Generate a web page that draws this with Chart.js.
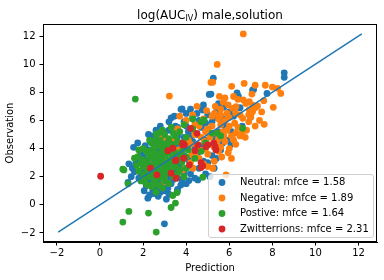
<!DOCTYPE html>
<html>
<head>
<meta charset="utf-8">
<script src="https://cdn.jsdelivr.net/npm/chart.js@4.4.0/dist/chart.umd.min.js"></script>
<style>
html,body{margin:0;padding:0;background:#fff;}
canvas{display:block;}
</style>
</head>
<body>
<canvas id="c" width="384" height="280"></canvas>
<script>
const seriesNames = ["Neutral: mfce = 1.58", "Negative: mfce = 1.89", "Postive: mfce = 1.64", "Zwitterrions: mfce = 2.31"];
const xTicks = [-2, 0, 2, 4, 6, 8, 10, 12];
const yTicks = [-2, 0, 2, 4, 6, 8, 10, 12];

const neutral = [
[8.55,9.38],[8.55,9.06],[5.26,9.0],[5.15,7.87],[5.07,7.85],[6.36,7.96],[6.42,7.73],[7.13,8.2],[7.75,7.92],[5.74,6.93],
[3.81,6.81],[3.76,6.79],[4.77,6.74],[4.74,6.79],[6.08,4.3],[6.99,6.22],[6.23,6.79],[1.56,4.09],[1.34,2.91],[2.37,4.45],
[2.84,5.08],[2.22,0.47],[3.08,0.40],[2.99,-1.35],[4.13,1.72],[4.54,1.77],[3.15,1.18],[3.58,0.94],[1.3,1.6],
[3.3,6.17],[2.98,5.18],[3.5,5.6],[3.9,5.9],[4.3,6.2],[4.6,6.0],[5.0,6.4],[5.4,6.6],[4.1,5.2],[3.6,4.9],[2.6,5.3],
[2.4,4.9],[2.1,4.2],[1.9,3.6],[1.7,3.2],[1.5,2.6],[1.9,2.2],[2.2,1.8],[2.4,1.5],[2.6,1.2],[2.8,0.9],[2.5,0.8],
[3.0,1.0],[2.05,1.0],[2.3,0.7],[3.3,1.5],[3.6,1.9],[3.9,2.3],[4.3,2.6],[4.8,3.1],[5.2,3.5],[5.6,3.9],[5.9,4.6],
[5.5,5.2],[4.9,4.6],[4.4,4.0],[3.9,3.5],[3.4,3.0],[2.9,2.5],[2.5,2.9],[2.2,3.2],[2.7,3.9],[3.1,4.4],[3.6,4.2],
[4.2,4.9],[4.7,5.5],[5.2,5.9],[5.7,6.1],[6.2,6.3],[6.5,6.9],[3.0,3.6],[3.3,2.2],[2.8,1.7],[2.1,2.6],[1.8,1.9],
[4.0,1.5],[4.9,2.2],[5.3,2.6],[6.1,5.2],[6.6,5.6],[2.45,1.05],[2.7,0.6],[3.2,0.75],[2.15,1.35],[1.45,2.0],[1.6,2.35],
[4.5,6.5],[3.2,5.9],[2.8,5.6],[4.0,6.5],[3.45,6.3],[4.4,1.9],[3.75,1.4],[5.1,2.0],[1.75,4.4],[2.25,5.0],[7.08,8.16],
[3.0,2.2],[3.2,2.6],[3.5,2.4],[3.7,2.8],[4.1,3.2],[4.5,3.6],[3.4,3.8],[3.8,4.0],[4.3,4.5],[3.9,4.8],
[4.5,5.0],[4.9,5.8],[5.3,6.2],[4.0,5.6],[3.6,5.5],[3.2,5.3],[2.9,4.8],[2.5,4.5],[2.3,3.9],[2.0,3.5],
[2.7,3.3],[2.6,2.2],[2.4,1.9],[2.9,1.4],[3.4,1.8],[3.1,1.9],[3.8,1.8],[4.2,2.2],[4.6,2.6],[5.0,3.0],
[5.4,3.3],[5.7,4.4],[5.3,4.8],[4.7,4.2],[5.8,5.6],[6.0,6.6],[5.5,7.2],[4.8,7.1],[4.2,6.8],[2.0,2.3],
[1.65,2.9],[2.3,2.4],[2.55,1.55],[3.6,1.1],[2.85,2.05]
];
const negative = [
[6.65,12.15],[5.44,9.98],[6.69,8.63],[7.2,8.5],[7.67,8.5],[6.11,8.42],[5.23,8.72],[5.15,8.7],[7.05,7.87],[8.0,8.37],
[8.24,8.28],[8.39,7.92],[5.54,7.71],[5.72,7.3],[8.04,6.93],[7.62,5.72],[6.74,4.8],[6.16,6.86],[6.31,6.97],[5.31,6.5],
[6.65,7.45],[6.77,7.21],[6.93,7.33],[7.08,7.09],[6.93,6.74],[7.31,7.02],[7.08,6.62],[7.0,6.26],[6.62,6.15],[3.22,7.73],
[5.5,6.1],[5.8,6.0],[6.0,5.6],[5.7,5.2],[6.3,5.1],[5.2,5.6],[4.9,5.2],[4.6,5.6],[4.4,5.0],[4.1,4.6],
[3.8,4.4],[3.6,5.4],[4.0,6.0],[4.3,6.4],[4.8,6.1],[5.1,4.8],[5.4,4.4],[5.8,4.5],[6.2,4.6],[6.4,5.5],
[6.0,4.0],[5.5,3.8],[5.0,3.6],[4.6,3.3],[4.2,3.0],[3.84,2.48],[4.31,2.6],[5.0,2.72],[5.23,2.6],[5.85,2.13],
[3.5,3.6],[3.0,3.9],[2.92,4.77],[3.4,4.6],[4.5,4.3],[4.9,4.0],[5.3,4.1],[6.5,4.9],[6.8,5.3],[7.2,5.6],
[3.2,2.9],[2.8,2.4],[2.99,1.65],[6.9,5.9],[6.5,6.4],[5.9,6.5],[5.6,6.8],[4.95,6.7],[4.5,7.0],[3.7,6.3],
[5.75,4.9],[6.25,5.8],[5.3,3.1],[4.8,2.9],[3.65,3.9],[4.25,3.55],[5.65,3.4],[6.1,3.3],[7.4,6.0],[7.5,6.6],
[5.95,7.1],[5.35,7.0],
[5.2,6.3],[5.6,6.4],[6.0,6.2],[6.3,6.5],[5.9,5.3],[6.1,4.9],[5.5,4.7],[5.0,5.4],[4.7,4.8],[4.4,5.7],
[4.2,4.3],[4.6,3.9],[5.2,4.3],[5.6,4.1],[6.3,4.3],[6.6,5.2],[6.9,6.4],[7.2,6.9],[7.6,7.4],[6.4,7.5],
[5.8,7.6],[6.2,7.7],[5.4,5.1],[4.85,4.5],[5.95,3.7],[4.4,3.5],[5.6,5.7]
];
const positive = [
[1.64,7.52],[1.34,-0.47],[1.06,-1.23],[2.25,-0.59],[2.61,-1.94],[3.3,-0.19],[3.5,0.12],[3.38,0.66],[3.58,0.87],[1.3,1.49],
[4.77,1.96],[1.06,2.53],[1.6,3.31],[1.76,3.43],[1.99,3.19],[2.14,3.83],[2.6,4.61],[4.81,5.98],[6.62,5.44],[4.69,5.9],
[4.83,6.03],[5.46,5.08],
[2.0,2.0],[2.2,2.3],[2.4,2.1],[2.6,1.9],[2.8,2.2],[3.0,2.0],[2.3,2.8],[2.5,2.6],[2.7,2.9],[2.9,3.1],
[3.1,2.7],[3.3,2.5],[2.1,3.0],[2.4,3.4],[2.6,3.6],[2.8,3.3],[3.0,3.5],[3.2,3.2],[3.4,3.4],[2.2,3.7],
[2.5,4.0],[2.7,4.2],[2.9,4.0],[3.1,4.1],[3.3,3.9],[3.5,3.7],[3.7,3.4],[2.4,4.4],[2.8,4.6],[3.2,4.7],
[3.6,4.5],[3.9,4.3],[3.0,5.0],[3.4,5.1],[3.7,5.2],[4.0,4.8],[4.3,5.4],[4.1,3.9],[3.8,3.0],[3.5,2.7],
[2.1,1.6],[2.4,1.3],[1.8,2.4],[1.7,2.8],[1.9,1.7],[2.2,1.4],[3.2,1.5],[3.6,2.2],[4.0,2.6],[4.4,3.3],
[4.7,3.8],[4.9,4.4],[5.2,5.1],[3.9,5.7],[3.3,5.5],[2.7,5.1],[2.0,4.0],[1.8,3.9],[2.6,0.9],[2.9,1.2],
[4.3,6.1],[5.6,4.9],[1.11,2.48],[2.35,2.5],[2.65,2.3],[2.95,2.6],[3.05,3.0],[2.55,3.2],[2.85,3.75],[3.35,4.3],
[2.1,2.2],[2.3,2.0],[2.5,2.35],[2.7,2.5],[2.9,2.3],[3.1,2.3],[2.2,2.6],[2.4,2.8],[2.6,3.0],[2.8,2.7],
[3.0,2.9],[3.2,2.9],[3.3,3.1],[2.3,3.3],[2.5,3.5],[2.7,3.5],[2.9,3.6],[3.1,3.7],[3.3,3.6],[2.4,3.9],
[2.6,4.2],[2.8,4.3],[3.0,4.3],[3.2,4.4],[3.4,4.2],[2.0,2.7],[1.9,3.0],[2.3,4.6],[2.6,5.0],[2.9,5.3],
[3.5,4.9],[3.8,3.8],[4.0,3.4],[3.7,2.5],[3.4,2.0],[2.8,1.9],[2.5,1.6],[2.0,1.9],[2.7,1.4],[3.0,1.7],[3.9,2.0]
];
const zwitterions = [
[0.03,2.03],[2.34,2.6],[2.64,2.13],[3.3,2.25],[3.53,1.89],[3.15,3.85],[3.38,4.02],[3.5,3.14],[3.84,4.26],[3.89,3.31],
[4.15,2.84],[4.2,5.44],[4.41,3.85],[4.69,3.0],[4.77,2.77],[5.0,4.26],[5.34,4.13],[5.28,4.38],[4.5,5.08],[4.54,4.26],
[4.92,4.13],[3.92,4.26],[4.69,2.65],[5.38,3.9],[3.53,3.19],[3.84,4.38]
];

const colors = ["#1f77b4", "#ff7f0e", "#2ca02c", "#d62728"];
const groups = [neutral, negative, positive, zwitterions];

const allVals = [];
groups.forEach(g => g.forEach(p => { allVals.push(p[0], p[1]); }));
const lo = Math.min(...allVals), hi = Math.max(...allVals);
const margin = (hi - lo) * 0.05;
const axMin = lo - margin, axMax = hi + margin;

const datasets = groups.map((g, i) => ({
  type: 'scatter',
  label: seriesNames[i],
  data: g.map(p => ({x: p[0], y: p[1]})),
  backgroundColor: colors[i],
  borderWidth: 0,
  pointRadius: 3.4,
  pointHoverRadius: 3.4,
  order: 4 - i
}));
datasets.push({
  type: 'line',
  label: 'identity',
  data: [{x: lo, y: lo}, {x: hi, y: hi}],
  borderColor: "#1f77b4",
  borderWidth: 1.5,
  pointRadius: 0,
  fill: false,
  order: 0
});

const FONT = "'DejaVu Sans', sans-serif";

const decor = {
  id: 'decor',
  afterDraw(chart) {
    const ctx = chart.ctx;
    const a = chart.chartArea;
    ctx.save();
    ctx.strokeStyle = '#000';
    ctx.lineWidth = 1;
    ctx.strokeRect(Math.round(a.left) + 0.5, Math.round(a.top) + 0.5, Math.round(a.right - a.left) - 1, Math.round(a.bottom - a.top) - 1);
    const cx = (a.left + a.right) / 2;
    ctx.fillStyle = '#000';
    ctx.textBaseline = 'alphabetic';
    const p1 = 'log(AUC', sub = 'IV', p2 = ') male,solution';
    ctx.font = '12px ' + FONT;
    const w1 = ctx.measureText(p1).width, w3 = ctx.measureText(p2).width;
    ctx.font = '8px ' + FONT;
    const w2 = ctx.measureText(sub).width;
    let x = cx - (w1 + w2 + w3) / 2;
    const base = 19;
    ctx.font = '12px ' + FONT; ctx.textAlign = 'left';
    ctx.fillText(p1, x, base); x += w1;
    ctx.font = '8px ' + FONT;
    ctx.fillText(sub, x, base + 2); x += w2;
    ctx.font = '12px ' + FONT;
    ctx.fillText(p2, x, base);
    ctx.font = '10px ' + FONT;
    ctx.textAlign = 'center';
    ctx.textBaseline = 'middle';
    ctx.fillText('Prediction', cx, 268);
    ctx.save();
    ctx.translate(10, (a.top + a.bottom) / 2);
    ctx.rotate(-Math.PI / 2);
    ctx.fillText('Observation', 0, 0);
    ctx.restore();
    const lx = 208.5, ly = 174.5, lw = 165, lh = 63;
    ctx.beginPath();
    ctx.roundRect(lx, ly, lw, lh, 2.5);
    ctx.fillStyle = 'rgba(255,255,255,0.8)';
    ctx.fill();
    ctx.strokeStyle = '#d0d0d0';
    ctx.lineWidth = 1;
    ctx.stroke();
    ctx.textAlign = 'left';
    ctx.font = '10px ' + FONT;
    seriesNames.forEach((name, i) => {
      const yy = 182.5 + i * 15.5;
      ctx.beginPath();
      ctx.arc(222, yy, 3.4, 0, Math.PI * 2);
      ctx.fillStyle = colors[i];
      ctx.fill();
      ctx.fillStyle = '#000';
      ctx.fillText(name, 240, yy);
    });
    ctx.restore();
  }
};

new Chart(document.getElementById('c'), {
  data: { datasets },
  options: {
    responsive: false,
    animation: false,
    events: [],
    layout: { padding: { top: 24, right: 7, left: 0, bottom: 0 } },
    plugins: { legend: { display: false }, title: { display: false }, tooltip: { enabled: false } },
    scales: {
      x: {
        type: 'linear', min: axMin, max: axMax,
        afterBuildTicks: s => { s.ticks = xTicks.map(v => ({value: v})); },
        afterFit: s => { s.height = 38; },
        grid: { drawOnChartArea: false, drawTicks: true, tickLength: 3.5, tickColor: '#000', tickWidth: 1 },
        border: { display: true, color: '#000', width: 1 },
        ticks: { color: '#000', font: { family: FONT, size: 10 }, padding: 2, maxRotation: 0,
                 callback: v => (v < 0 ? '\u2212' + Math.abs(v) : String(v)) }
      },
      y: {
        type: 'linear', min: axMin, max: axMax,
        afterBuildTicks: s => { s.ticks = yTicks.map(v => ({value: v})); },
        afterFit: s => { s.width = 43; },
        grid: { drawOnChartArea: false, drawTicks: true, tickLength: 3.5, tickColor: '#000', tickWidth: 1 },
        border: { display: true, color: '#000', width: 1 },
        ticks: { color: '#000', font: { family: FONT, size: 10 }, padding: 4,
                 callback: v => (v < 0 ? '\u2212' + Math.abs(v) : String(v)) }
      }
    }
  },
  plugins: [decor]
});
</script>
</body>
</html>
